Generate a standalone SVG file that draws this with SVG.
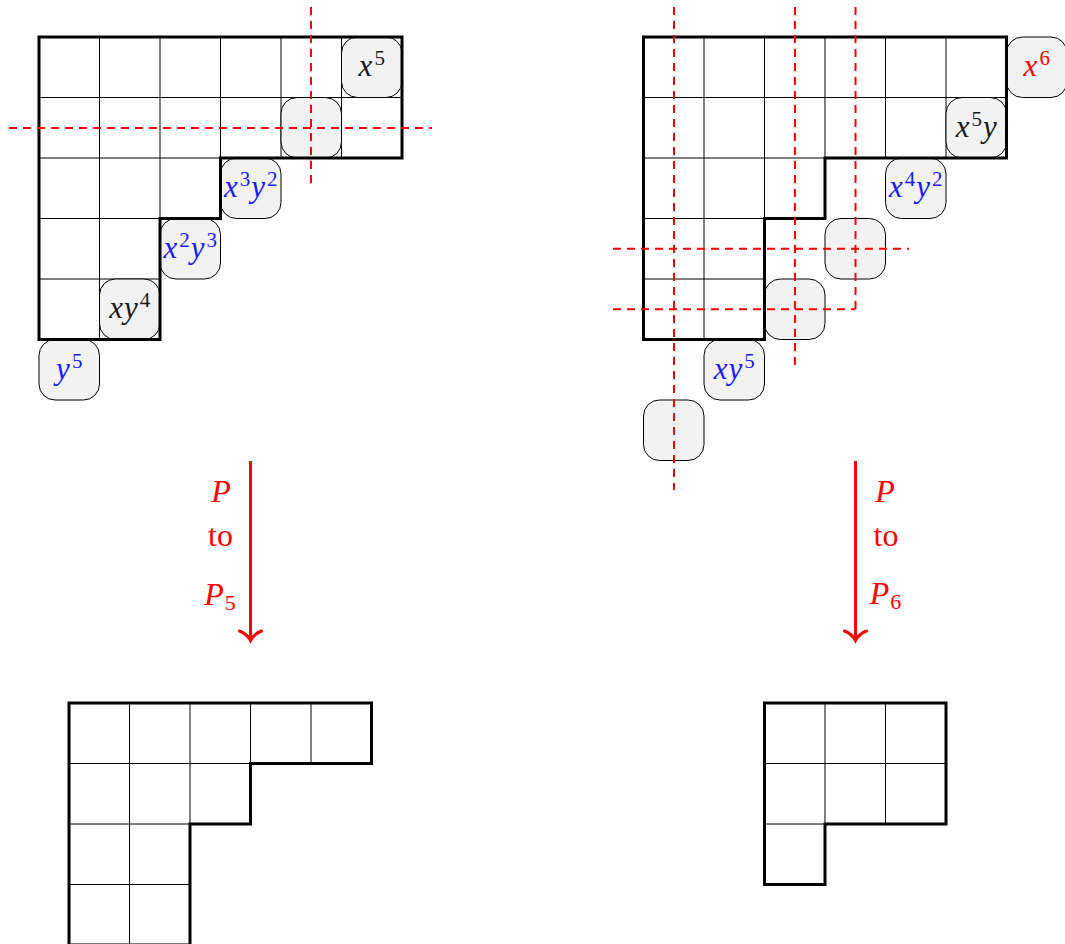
<svg xmlns="http://www.w3.org/2000/svg" xmlns:xlink="http://www.w3.org/1999/xlink" width="1065" height="944" viewBox="0 0 1065 944">
<style>
.thin{fill:none;stroke:#000;stroke-width:1}
.thick{fill:none;stroke:#000;stroke-width:3;stroke-linejoin:miter}
.box{fill:#f2f2f2;stroke:#000;stroke-width:1}
.dash{fill:none;stroke:#ff0000;stroke-width:2;stroke-dasharray:8 6}
.arrow{fill:none;stroke:#ff0000;stroke-width:3}
.head{fill:none;stroke:#ff0000;stroke-width:3;stroke-linecap:round}
.t{font-family:"Liberation Serif","DejaVu Serif",serif;font-size:31px;text-anchor:middle}
.lab{font-family:"Liberation Serif","DejaVu Serif",serif;font-size:32px;text-anchor:middle;fill:#ff0000}
.i{font-style:italic}
.s{font-size:21px}
.k{fill:#1a1a1a}
.b{fill:#1a1aff}
.r{fill:#ff0000}
</style>
<defs>
<g id="bigshape">
<path class="thin" d="M99.5,37V339.5M160,37V218.5M220.5,37V158M281,37V158M341.5,37V158M39,97.5H402M39,158H220.5M39,218.5H160M39,279H160"/>
</g>
<path id="bigoutline" class="thick" d="M39,37H402V158H220.5V218.5H160V339.5H39Z"/>
</defs>
<g id="grid-top-left">
<use xlink:href="#bigshape"/>
</g>
<g id="grid-top-right">
<use xlink:href="#bigshape" transform="translate(604.5,0)"/>
</g>
<g id="boxes-left">
<g id="box-x5"><rect class="box" x="341.5" y="37" width="60.5" height="60.5" rx="16"/><text class="t k" x="371.75" y="76"><tspan class="i">x</tspan><tspan class="s" dx="2" dy="-11">5</tspan></text></g>
<g id="box-empty-l1"><rect class="box" x="281" y="97.5" width="60.5" height="60.5" rx="16"/></g>
<g id="box-x3y2"><rect class="box" x="220.5" y="158" width="60.5" height="60.5" rx="16"/><text class="t b" x="250.75" y="197"><tspan class="i">x</tspan><tspan class="s" dx="2" dy="-11">3</tspan><tspan class="i" dx="1" dy="11">y</tspan><tspan class="s" dx="2" dy="-11">2</tspan></text></g>
<g id="box-x2y3"><rect class="box" x="160" y="218.5" width="60.5" height="60.5" rx="16"/><text class="t b" x="190.25" y="257.5"><tspan class="i">x</tspan><tspan class="s" dx="2" dy="-11">2</tspan><tspan class="i" dx="1" dy="11">y</tspan><tspan class="s" dx="2" dy="-11">3</tspan></text></g>
<g id="box-xy4"><rect class="box" x="99.5" y="279" width="60.5" height="60.5" rx="16"/><text class="t k" x="129.75" y="318"><tspan class="i">x</tspan><tspan class="i" dx="1">y</tspan><tspan class="s" dx="2" dy="-11">4</tspan></text></g>
<g id="box-y5"><rect class="box" x="39" y="339.5" width="60.5" height="60.5" rx="16"/><text class="t b" x="69.25" y="378.5"><tspan class="i">y</tspan><tspan class="s" dx="2" dy="-11">5</tspan></text></g>
</g>
<g id="boxes-right">
<g id="box-x6"><rect class="box" x="1006.5" y="37" width="60.5" height="60.5" rx="16"/><text class="t r" x="1036.75" y="76"><tspan class="i">x</tspan><tspan class="s" dx="2" dy="-11">6</tspan></text></g>
<g id="box-x5y"><rect class="box" x="946" y="97.5" width="60.5" height="60.5" rx="16"/><text class="t k" x="976.25" y="136.5"><tspan class="i">x</tspan><tspan class="s" dx="2" dy="-11">5</tspan><tspan class="i" dx="1" dy="11">y</tspan></text></g>
<g id="box-x4y2"><rect class="box" x="885.5" y="158" width="60.5" height="60.5" rx="16"/><text class="t b" x="915.75" y="197"><tspan class="i">x</tspan><tspan class="s" dx="2" dy="-11">4</tspan><tspan class="i" dx="1" dy="11">y</tspan><tspan class="s" dx="2" dy="-11">2</tspan></text></g>
<g id="box-empty-r1"><rect class="box" x="825" y="218.5" width="60.5" height="60.5" rx="16"/></g>
<g id="box-empty-r2"><rect class="box" x="764.5" y="279" width="60.5" height="60.5" rx="16"/></g>
<g id="box-xy5"><rect class="box" x="704" y="339.5" width="60.5" height="60.5" rx="16"/><text class="t b" x="734.25" y="378.5"><tspan class="i">x</tspan><tspan class="i" dx="1">y</tspan><tspan class="s" dx="2" dy="-11">5</tspan></text></g>
<g id="box-empty-r3"><rect class="box" x="643.5" y="400" width="60.5" height="60.5" rx="16"/></g>
</g>
<g id="outlines-top">
<use xlink:href="#bigoutline"/>
<use xlink:href="#bigoutline" transform="translate(604.5,0)"/>
</g>
<g id="dashed-lines">
<path class="dash" d="M311,7V188M9,128H432"/>
<path class="dash" d="M674,7V490M795,7V365M855.5,7V309M613,248.75H909M613,309.25H855.5"/>
</g>
<g id="connectors">
<g id="arrow-left"><path class="arrow" d="M250.5,461V639"/><path class="head" d="M239.5,631Q247,634 250.5,640.5Q254,634 261.5,631"/></g>
<g id="arrow-right"><path class="arrow" d="M855.5,461V639"/><path class="head" d="M844.5,631Q852,634 855.5,640.5Q859,634 866.5,631"/></g>
</g>
<g id="label-left">
<text class="lab i" x="221" y="502">P</text>
<text class="lab" x="220.5" y="546">to</text>
<text class="lab" x="220" y="605"><tspan class="i">P</tspan><tspan font-size="22" dx="1" dy="5">5</tspan></text>
</g>
<g id="label-right">
<text class="lab i" x="885" y="502">P</text>
<text class="lab" x="886" y="546">to</text>
<text class="lab" x="885.5" y="604"><tspan class="i">P</tspan><tspan font-size="22" dx="1" dy="5">6</tspan></text>
</g>
<g id="grid-bottom-left">
<path class="thin" d="M129.5,703V945M190,703V824M250.5,703V763.5M311,703V763.5M69,763.5H250.5M69,824H190M69,884.5H190"/>
<path class="thick" d="M69,703H371.5V763.5H250.5V824H190V945H69Z"/>
</g>
<g id="grid-bottom-right">
<path class="thin" d="M825,703V824M885.5,703V824M764.5,763.5H946M764.5,824H825"/>
<path class="thick" d="M764.5,703H946V824H825V884.5H764.5Z"/>
</g>
</svg>
